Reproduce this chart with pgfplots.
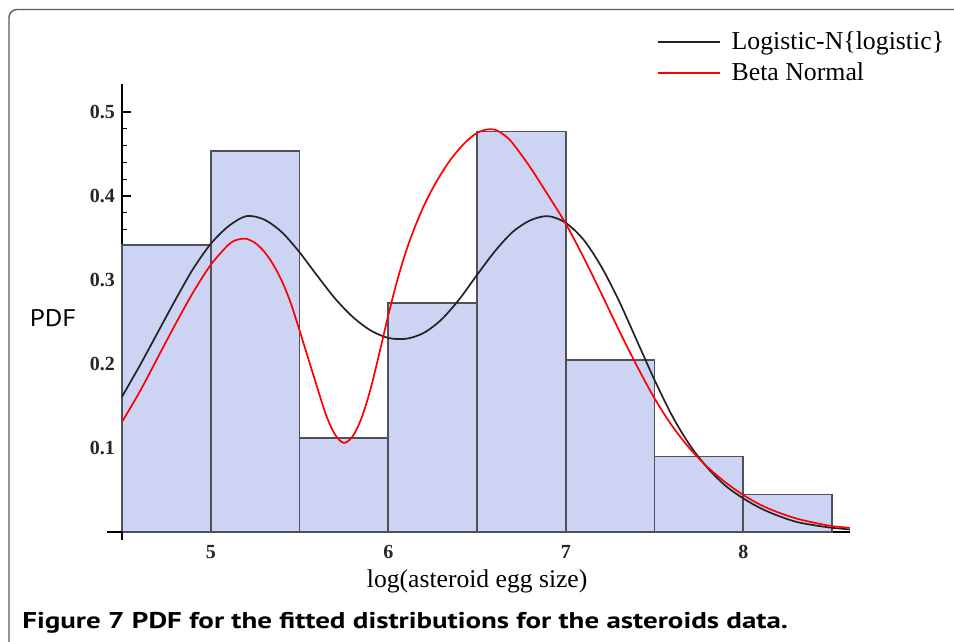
\documentclass[border=0pt]{standalone}
\usepackage{pgfplots}
\pgfplotsset{compat=1.18}
\usepackage{fontspec}
\setmainfont{Liberation Serif}
\newfontfamily\capfont{PT Sans}
\definecolor{barfill}{RGB}{204,211,243}
\definecolor{baredge}{RGB}{80,80,90}
\definecolor{curveblack}{RGB}{35,35,35}
\definecolor{framegray}{RGB}{90,90,90}
\begin{document}
\begin{tikzpicture}
\useasboundingbox (0,0) rectangle (477pt,321pt);
\begin{scope}
\clip (0,0) rectangle (477pt,321pt);
\draw[line width=0.7pt, framegray, rounded corners=4pt] (4.5pt,-20pt) -- (4.5pt,316.25pt) -- (500pt,316.25pt);
\end{scope}
\begin{axis}[
  at={(61pt,55pt)}, anchor=south west, scale only axis,
  width=363.9pt, height=224pt,
  xmin=4.5, xmax=8.6, ymin=0, ymax=0.5333,
  axis lines=left, axis line style={-, line width=1pt, black},
  clip=false,
  xtick={5,6,7,8}, ytick={0.1,0.2,0.3,0.4,0.5},
  minor x tick num=4, minor y tick num=4,
  major tick length=4.5pt, minor tick length=2.5pt,
  tick style={black, line width=0.6pt},
  tick align=inside,
  /pgf/number format/assume math mode=true,
  /pgf/number format/fixed,
  ticklabel style={font=\bfseries\fontsize{10}{12}\selectfont, text=black!85},
  xticklabel style={yshift=-3pt},
  xlabel={log(asteroid egg size)},
  xlabel style={font=\fontsize{12.8}{15}\selectfont, at={(axis description cs:0.488,-0.11)}, anchor=center},
  ylabel={\capfont\scalebox{1.12}[1]{PDF}},
  ylabel style={font=\fontsize{12}{14}\selectfont, rotate=-90, at={(axis description cs:-0.0948,0.4766)}, anchor=center},
  legend style={draw=none, fill=none, at={(axis description cs:0.734,1.1275)}, anchor=north west,
    font=\fontsize{12.9}{15}\selectfont, row sep=1pt, inner sep=0pt},
  legend cell align=left,
  legend image code/.code={\draw[#1, line width=1pt] (0pt,0pt) -- (31pt,0pt); \path[draw=none,fill=none] (0pt,0pt) rectangle (35pt,0.1pt);},
]
\addplot[ybar interval, fill=barfill, draw=baredge, line width=0.85pt, forget plot] coordinates {
(4.5,0.3417) (5.0,0.4539) (5.5,0.1123) (6.0,0.2730) (6.5,0.4766) (7.0,0.2048) (7.5,0.0897) (8.0,0.0448) (8.5,0.0448)
};
\addplot[curveblack, line width=0.85pt, smooth] coordinates {
(4.50,0.161) (4.60,0.198) (4.70,0.237) (4.80,0.276) (4.90,0.313) (5.00,0.343) (5.10,0.364) (5.20,0.376)
(5.30,0.372) (5.40,0.357) (5.50,0.333) (5.60,0.305) (5.70,0.278) (5.80,0.256) (5.90,0.240) (6.00,0.231)
(6.10,0.230) (6.20,0.237) (6.30,0.253) (6.40,0.277) (6.50,0.306) (6.60,0.334) (6.70,0.357) (6.80,0.371)
(6.90,0.376) (7.00,0.368) (7.10,0.348) (7.20,0.316) (7.30,0.275) (7.40,0.228) (7.50,0.181) (7.60,0.138)
(7.70,0.103) (7.80,0.076) (7.90,0.055) (8.00,0.040) (8.10,0.028) (8.20,0.019) (8.30,0.012) (8.40,0.008)
(8.50,0.005) (8.60,0.003)
};
\addlegendentry{Logistic-N\{logistic\}}
\addplot[red, line width=0.85pt, smooth] coordinates {
(4.50,0.131) (4.60,0.167) (4.70,0.207) (4.80,0.247) (4.90,0.285) (5.00,0.318) (5.10,0.342) (5.15,0.348)
(5.20,0.349) (5.25,0.344) (5.30,0.334) (5.35,0.319) (5.40,0.299) (5.45,0.273) (5.50,0.240) (5.55,0.206)
(5.60,0.172) (5.65,0.139) (5.70,0.116) (5.75,0.106) (5.80,0.114) (5.85,0.136) (5.90,0.170) (5.95,0.213)
(6.00,0.258) (6.05,0.299) (6.10,0.334) (6.15,0.363) (6.20,0.388) (6.25,0.409) (6.30,0.427) (6.35,0.443)
(6.40,0.456) (6.45,0.467) (6.50,0.475) (6.55,0.479) (6.60,0.479) (6.65,0.473) (6.70,0.463) (6.80,0.434)
(6.90,0.401) (7.00,0.367) (7.10,0.327) (7.20,0.284) (7.30,0.240) (7.40,0.198) (7.50,0.159) (7.60,0.126)
(7.70,0.099) (7.80,0.077) (7.90,0.059) (8.00,0.044) (8.10,0.032) (8.20,0.023) (8.30,0.016) (8.40,0.011)
(8.50,0.007) (8.60,0.005)
};
\addlegendentry{Beta Normal}
\draw[black, line width=1pt] (axis cs:4.415,0) -- (axis cs:4.5,0);
\draw[black, line width=1pt] (axis cs:4.5,0) -- (axis cs:4.5,-0.0095);
\end{axis}
\node[anchor=base west, inner sep=0pt, font=\capfont\bfseries\fontsize{11.4}{13}\selectfont] at (11pt,6.5pt) {\scalebox{1.27}[1]{Figure 7 PDF for the fitted distributions for the asteroids data.}};
\end{tikzpicture}
\end{document}
